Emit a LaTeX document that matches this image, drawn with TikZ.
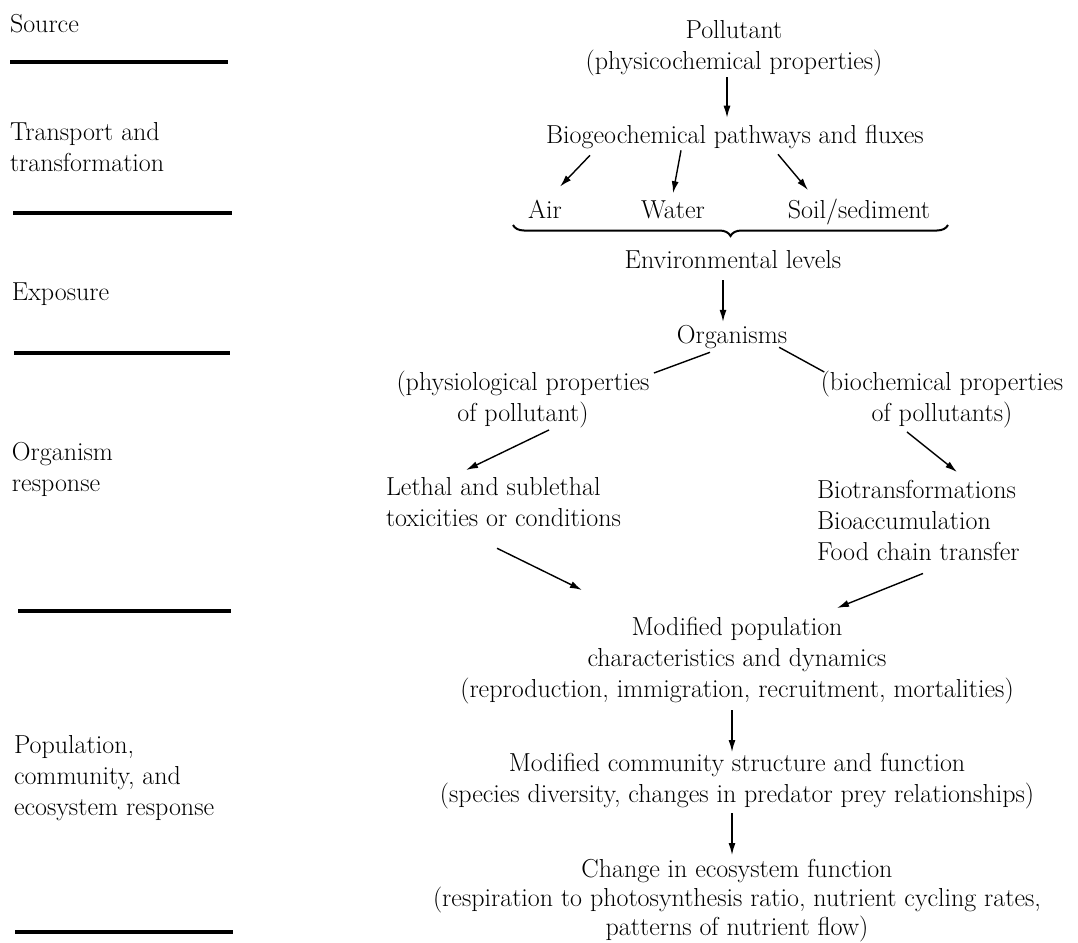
\documentclass[tikz,border=0pt]{standalone}
\usepackage{fontspec}
\usetikzlibrary{calc,arrows.meta,decorations.pathreplacing}
\begin{document}
\begin{tikzpicture}[x=1pt,y=-1pt,
  txt/.style={inner sep=0pt,outer sep=0pt,font={\fontsize{26}{31}\selectfont}},
  arr/.style={line width=1.4pt,-{Latex[length=12pt,width=7pt]}},
  link/.style={line width=1.4pt},
  sepline/.style={line width=3.5pt},
]
\useasboundingbox (0,0) rectangle (1078,942);

% ---- left column labels
\node[txt,anchor=base west] (src) at (10,33) {Source};
\node[txt,anchor=north west,align=left] (trn) at (10,122) {Transport and\\transformation};
\node[txt,anchor=base west] (expo) at (12,300) {Exposure};
\node[txt,anchor=north west,align=left] (orr) at (12,442) {Organism\\response};
\node[txt,anchor=north west,align=left] (pcr) at (14,735) {Population,\\community, and\\ecosystem response};

\draw[sepline] (10,62) -- (228,62);
\draw[sepline] (13,213) -- (232,213);
\draw[sepline] (14,353) -- (230,353);
\draw[sepline] (18,611) -- (231,611);
\draw[sepline] (15,932) -- (233,932);

% ---- main flow
\node[txt,anchor=north,align=center] (pol) at (734,20) {Pollutant\\(physicochemical properties)};
\node[txt,anchor=base] (bio) at (735,143) {Biogeochemical pathways and fluxes};
\node[txt,anchor=base] (air) at (545,218) {Air};
\node[txt,anchor=base] (wat) at (673,218) {Water};
\node[txt,anchor=base] (soil) at (859,218) {Soil/sediment};
\node[txt,anchor=base] (env) at (733,268) {Environmental levels};
\node[txt,anchor=base] (org) at (732,343) {Organisms};
\node[txt,anchor=north,align=center] (phys) at (523,371.5) {(physiological properties\\of pollutant)};
\node[txt,anchor=north,align=center] (bioc) at (942,371.5) {(biochemical properties\\of pollutants)};
\node[txt,anchor=north west,align=left] (leth) at (386,477) {Lethal and sublethal\\toxicities or conditions};
\node[txt,anchor=north west,align=left] (biot) at (817,480) {Biotransformations\\Bioaccumulation\\Food chain transfer};
\node[txt,anchor=north,align=center] (modp) at (737,617) {Modified population\\characteristics and dynamics\\(reproduction, immigration, recruitment, mortalities)};
\node[txt,anchor=north,align=center] (modc) at (737,753) {Modified community structure and function\\(species diversity, changes in predator prey relationships)};
\node[txt,anchor=north,align=center,font={\fontsize{26}{29}\selectfont}] (chg) at (737,859) {Change in ecosystem function\\(respiration to photosynthesis ratio, nutrient cycling rates,\\patterns of nutrient flow)};

% ---- connectors
\draw[arr] ($(pol.south)+(-7,1.5)$) -- ($(bio.north)+(-8,-7)$);
\draw[arr] ($(bio.south)+(-145,7)$) -- ($(air.north)+(15,-13)$);
\draw[arr] ($(bio.south)+(-54,2)$) -- ($(wat.north)+(0,-7)$);
\draw[arr] ($(bio.south)+(43,6)$) -- ($(soil.north)+(-51,-8.5)$);

\draw[line width=2pt,decorate,decoration={brace,mirror,amplitude=11pt}] (513,225) -- (948,225);

\draw[arr] ($(env.south)+(-10,12)$) -- ($(org.north)+(-9,-3)$);
\draw[link] ($(org.south)+(-22,4)$) -- ($(phys.north east)+(4.5,1.5)$);
\draw[link] ($(org.south east)+(-8,-1)$) -- ($(bioc.north west)+(3.5,0.5)$);
\draw[arr] ($(phys.south)+(26,1.5)$) -- ($(leth.north west)+(80,-7)$);
\draw[arr] ($(bioc.south)+(-35,3.5)$) -- ($(biot.north west)+(140,-8)$);
\draw[arr] ($(leth.south west)+(111,22)$) -- ($(modp.north)+(-155,-27)$);
\draw[arr] ($(biot.south west)+(106,13)$) -- ($(modp.north)+(100,-9)$);
\draw[arr] ($(modp.south)+(-5,6.5)$) -- ($(modc.north)+(-5,-1)$);
\draw[arr] ($(modc.south)+(-5,4.5)$) -- ($(chg.north)+(-5,-4)$);
\end{tikzpicture}
\end{document}
